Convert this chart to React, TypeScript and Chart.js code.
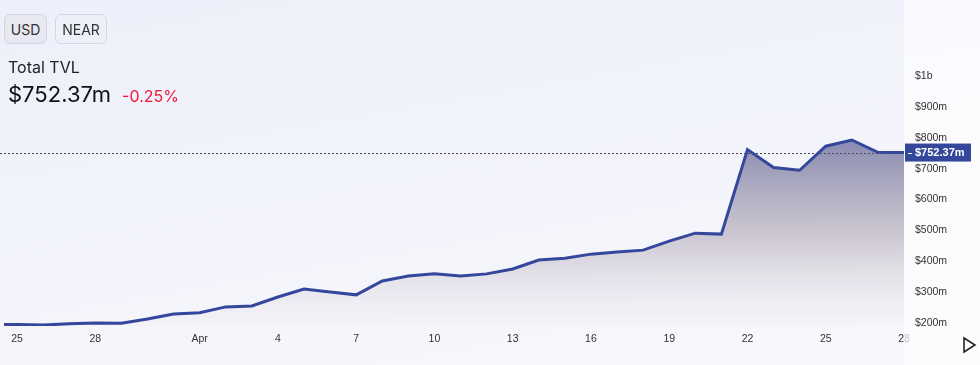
import React, { useEffect, useRef } from "react";
import { Chart, registerables } from "chart.js";

Chart.register(...registerables);

const days: string[] = [
  "Mar 24", "Mar 25", "Mar 26", "Mar 27", "Mar 28", "Mar 29", "Mar 30", "Mar 31",
  "Apr 1", "Apr 2", "Apr 3", "Apr 4", "Apr 5", "Apr 6", "Apr 7", "Apr 8", "Apr 9", "Apr 10",
  "Apr 11", "Apr 12", "Apr 13", "Apr 14", "Apr 15", "Apr 16", "Apr 17", "Apr 18", "Apr 19",
  "Apr 20", "Apr 21", "Apr 22", "Apr 23", "Apr 24", "Apr 25", "Apr 26", "Apr 27", "Apr 28",
];

// Total TVL in millions USD
const tvl: number[] = [
  194, 195, 193, 197, 200, 199, 213, 229,
  233, 252, 255, 284, 310, 300, 291, 336, 352, 359,
  352, 359, 375, 404, 410, 423, 430, 436, 465,
  491, 488, 762, 704, 695, 773, 793, 753, 752.37,
];

const xTickIndexes: number[] = [1, 4, 8, 11, 14, 17, 20, 23, 26, 29, 32, 35];
const yTickValues: number[] = [200, 300, 400, 500, 600, 700, 800, 900, 1000];
const currentValue = 752.37;
const currentLabel = "$752.37m";

function xLabel(i: number): string {
  const d = days[i];
  if (!d) return "";
  const [mon, day] = d.split(" ");
  return day === "1" ? mon : day;
}

function yLabel(v: number): string {
  return v >= 1000 ? "$" + v / 1000 + "b" : "$" + v + "m";
}

const overlayPlugin = {
  id: "overlay",
  beforeDatasetsDraw(chart: any) {
    const { ctx, chartArea, scales } = chart;
    const y = Math.round(scales.y.getPixelForValue(currentValue)) + 0.5;
    ctx.save();
    ctx.strokeStyle = "#444";
    ctx.lineWidth = 1;
    ctx.setLineDash([2, 2]);
    ctx.beginPath();
    ctx.moveTo(0, y);
    ctx.lineTo(chartArea.right, y);
    ctx.stroke();
    ctx.restore();
  },
  afterDatasetsDraw(chart: any) {
    const { ctx, chartArea } = chart;
    ctx.save();
    ctx.fillStyle = "rgba(253,253,255,0.7)";
    ctx.fillRect(chartArea.right, 0, chart.width - chartArea.right, chart.height);
    ctx.restore();
  },
  afterDraw(chart: any) {
    const { ctx, chartArea, scales } = chart;
    const y = scales.y.getPixelForValue(currentValue);
    ctx.save();
    ctx.fillStyle = "#33479b";
    ctx.fillRect(chartArea.right + 1, y - 9, 66, 18);
    ctx.strokeStyle = "#ffffff";
    ctx.lineWidth = 1;
    ctx.beginPath();
    ctx.moveTo(chartArea.right + 4, Math.round(y) + 0.5);
    ctx.lineTo(chartArea.right + 8, Math.round(y) + 0.5);
    ctx.stroke();
    ctx.fillStyle = "#ffffff";
    ctx.font = "bold 11px 'Liberation Sans', Arial, sans-serif";
    ctx.textBaseline = "middle";
    ctx.textAlign = "left";
    ctx.fillText(currentLabel, chartArea.right + 11, y + 0.5);
    ctx.restore();
  },
};

function TvlChart() {
  const ref = useRef<HTMLCanvasElement | null>(null);
  useEffect(() => {
    if (!ref.current) return;
    const points = tvl.map((v, i) => ({ x: i, y: v }));
    const chart = new Chart(ref.current, {
      type: "line",
      data: {
        datasets: [
          {
            data: points,
            borderColor: "#34479c",
            borderWidth: 3,
            pointRadius: 0,
            tension: 0,
            fill: "start",
            backgroundColor: (c: any) => {
              const area = c.chart.chartArea;
              if (!area) return "rgba(80,80,130,0.3)";
              const g = c.chart.ctx.createLinearGradient(0, area.top + 70, 0, area.bottom);
              g.addColorStop(0, "rgba(70,72,130,0.62)");
              g.addColorStop(0.5, "rgba(150,138,155,0.45)");
              g.addColorStop(1, "rgba(235,228,235,0.15)");
              return g;
            },
          },
        ],
      },
      options: {
        animation: false,
        responsive: false,
        maintainAspectRatio: false,
        layout: { padding: { left: 4, top: 70, right: 0, bottom: 0 } },
        plugins: { legend: { display: false }, tooltip: { enabled: false } },
        scales: {
          x: {
            type: "linear",
            min: 0.5,
            max: 35,
            grid: { display: false, drawTicks: false },
            border: { display: false },
            afterBuildTicks: (scale: any) => {
              scale.ticks = xTickIndexes.map((v) => ({ value: v }));
            },
            afterFit: (scale: any) => {
              scale.height = 39;
            },
            ticks: {
              padding: 7,
              maxRotation: 0,
              autoSkip: false,
              color: "#333",
              font: { family: "'Liberation Sans', Arial, sans-serif", size: 10.5 },
              callback: (v: any) => xLabel(Number(v)),
            },
          },
          y: {
            position: "right",
            min: 190,
            max: 1020,
            grid: { display: false, drawTicks: false },
            border: { display: false },
            afterBuildTicks: (scale: any) => {
              scale.ticks = yTickValues.map((v) => ({ value: v }));
            },
            afterFit: (scale: any) => {
              scale.width = 76;
            },
            ticks: {
              z: 1,
              padding: 11,
              color: "#333",
              font: { family: "'Liberation Sans', Arial, sans-serif", size: 10.5 },
              callback: (v: any) => yLabel(Number(v)),
            },
          },
        },
      },
      plugins: [overlayPlugin],
    } as any);
    return () => chart.destroy();
  }, []);
  return (
    <canvas
      ref={ref}
      width={980}
      height={365}
      style={{ position: "absolute", left: 0, top: 0, width: 980, height: 365 }}
    />
  );
}

export default function App() {
  const btn: React.CSSProperties = {
    position: "absolute",
    top: 14,
    height: 30,
    boxSizing: "border-box",
    border: "1px solid #d3d5e2",
    borderRadius: 6,
    fontSize: 14,
    color: "#333",
    display: "flex",
    alignItems: "center",
    justifyContent: "center",
    fontFamily: "Inter, 'Noto Sans', sans-serif",
  };
  return (
    <div
      style={{
        position: "fixed",
        left: 0,
        top: 0,
        width: 980,
        height: 365,
        overflow: "hidden",
        background: "linear-gradient(170deg, #edeffa 0%, #f3f4fb 50%, #f8f8fc 100%)",
        fontFamily: "Inter, 'Noto Sans', sans-serif",
      }}
    >
      <TvlChart />
      <div style={{ ...btn, left: 4, width: 43, background: "#e7e8f2" }}>USD</div>
      <div style={{ ...btn, left: 55, width: 52, background: "#eef0f9" }}>NEAR</div>
      <div style={{ position: "absolute", left: 8, top: 57, fontSize: 16, color: "#222" }}>Total TVL</div>
      <div style={{ position: "absolute", left: 8, top: 81, display: "flex", alignItems: "baseline" }}>
        <span style={{ fontSize: 22, color: "#111" }}>$752.37m</span>
        <span style={{ fontSize: 16, color: "#f2163a", marginLeft: 11 }}>-0.25%</span>
      </div>
      <svg
        width={16}
        height={18}
        style={{ position: "absolute", left: 962, top: 336 }}
      >
        <polygon points="2,2 13,9 2,16" fill="none" stroke="#222" strokeWidth={1.6} strokeLinejoin="miter" />
      </svg>
    </div>
  );
}
